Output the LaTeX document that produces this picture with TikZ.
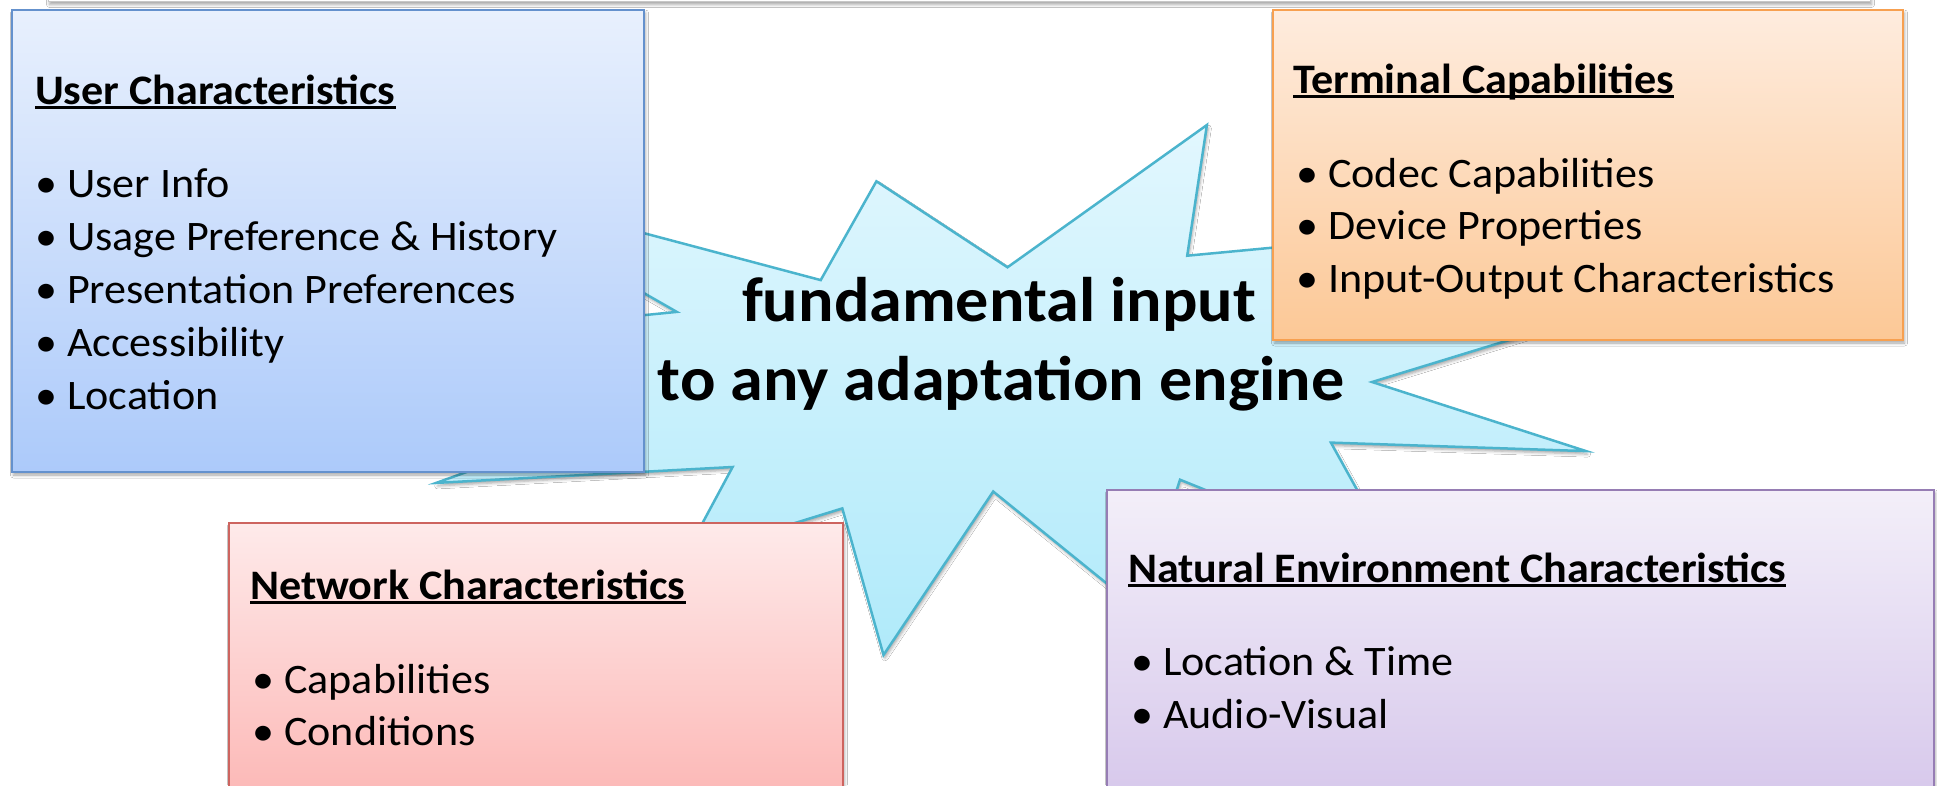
\documentclass[tikz,border=0pt]{standalone}
\usepackage{fontspec}
\setmainfont{Carlito}[FakeStretch=1.05]
\usetikzlibrary{shadows.blur}

\definecolor{userTop}{RGB}{232,240,253}
\definecolor{userBot}{RGB}{172,202,250}
\definecolor{userLine}{RGB}{100,145,205}
\definecolor{termTop}{RGB}{254,236,222}
\definecolor{termBot}{RGB}{252,200,150}
\definecolor{termLine}{RGB}{247,160,80}
\definecolor{netTop}{RGB}{254,234,234}
\definecolor{netBot}{RGB}{252,178,176}
\definecolor{netLine}{RGB}{205,100,95}
\definecolor{natTop}{RGB}{243,239,249}
\definecolor{natBot}{RGB}{212,196,234}
\definecolor{natLine}{RGB}{150,125,180}
\definecolor{starTop}{RGB}{226,247,254}
\definecolor{starBot}{RGB}{176,234,250}
\definecolor{starLine}{RGB}{75,180,205}

% underlined heading with the rule crossing just below the baseline
\newcommand\headline[1]{\setbox0\hbox{#1}\rlap{\rule[-0.12em]{\wd0}{0.07em}}\box0}

\tikzset{
  softshadow/.style={blur shadow={shadow xshift=1.5pt, shadow yshift=-3pt,
      shadow blur radius=3pt, shadow opacity=35}},
  panel/.style={line width=2.5pt, softshadow},
  heading/.style={anchor=base west, inner sep=0pt,
      font=\fontsize{42}{50}\selectfont\bfseries},
  item/.style={anchor=base west, inner sep=0pt,
      font=\fontsize{42}{50}\selectfont},
  slogan/.style={anchor=base, inner sep=0pt,
      font=\fontsize{63}{75}\selectfont\bfseries},
}

\begin{document}
\begin{tikzpicture}[x=1pt, y=-1pt]
\useasboundingbox (0,0) rectangle (1937,785);
\fill[white] (0,0) rectangle (1937,785);

% edge of the frame above
\path[fill=white, draw=black!22, line width=1pt, softshadow]
  (48,-40) rectangle (1870,1.5);

% explosion shape behind the panels
\path[draw=starLine, line width=2.5pt, top color=starTop, bottom color=starBot, softshadow]
  (1007.5,267.3) -- (1206.9,125) -- (1187.2,255.7) -- (1413.5,234.4)
  -- (1323.6,304.5) -- (1559.1,324.7) -- (1372.1,382) -- (1586,451.1)
  -- (1330.9,442.6) -- (1400.9,569) -- (1180,479.7) -- (1138.6,609.3)
  -- (993.2,491.5) -- (883.5,655) -- (842.3,508.4) -- (684.1,557.3)
  -- (732.6,467) -- (436.2,482.9) -- (628.4,413.9) -- (429,336.4)
  -- (676.8,311.9) -- (448.8,181.3) -- (820.7,280.1) -- (876.4,181.3) -- cycle;

\node[slogan] (slogan1) at (999,321) {fundamental input};
\node[slogan] (slogan2) at (1001,400) {to any adaptation engine};

% panels
\path[panel, draw=userLine, top color=userTop, bottom color=userBot]
  (12,10) rectangle (644,472);
\path[panel, draw=termLine, top color=termTop, bottom color=termBot]
  (1273,10) rectangle (1903,340);
\path[panel, draw=netLine, top color=netTop, bottom color=netBot]
  (229,523) rectangle (843,830);
\path[panel, draw=natLine, top color=natTop, bottom color=natBot]
  (1107,490) rectangle (1934,830);

% user characteristics
\node[heading] (userHead) at (35,104) {\headline{User Characteristics}};
\node[item] (user1) at (35,197) {• User Info};
\node[item] (user2) at (35,250) {• Usage Preference \& History};
\node[item] (user3) at (35,303) {• Presentation Preferences};
\node[item] (user4) at (35,356) {• Accessibility};
\node[item] (user5) at (35,409) {• Location};

% terminal capabilities
\node[heading] (termHead) at (1293,93) {\headline{Terminal Capabilities}};
\node[item] (term1) at (1296,187) {• Codec Capabilities};
\node[item] (term2) at (1296,239) {• Device Properties};
\node[item] (term3) at (1296,292) {• Input-Output Characteristics};

% network characteristics
\node[heading] (netHead) at (250,599) {\headline{Network Characteristics}};
\node[item] (net1) at (252,693) {• Capabilities};
\node[item] (net2) at (252,745) {• Conditions};

% natural environment characteristics
\node[heading] (natHead) at (1128,582) {\headline{Natural Environment Characteristics}};
\node[item] (nat1) at (1131,675) {• Location \& Time};
\node[item] (nat2) at (1131,728) {• Audio-Visual};
\end{tikzpicture}
\end{document}
